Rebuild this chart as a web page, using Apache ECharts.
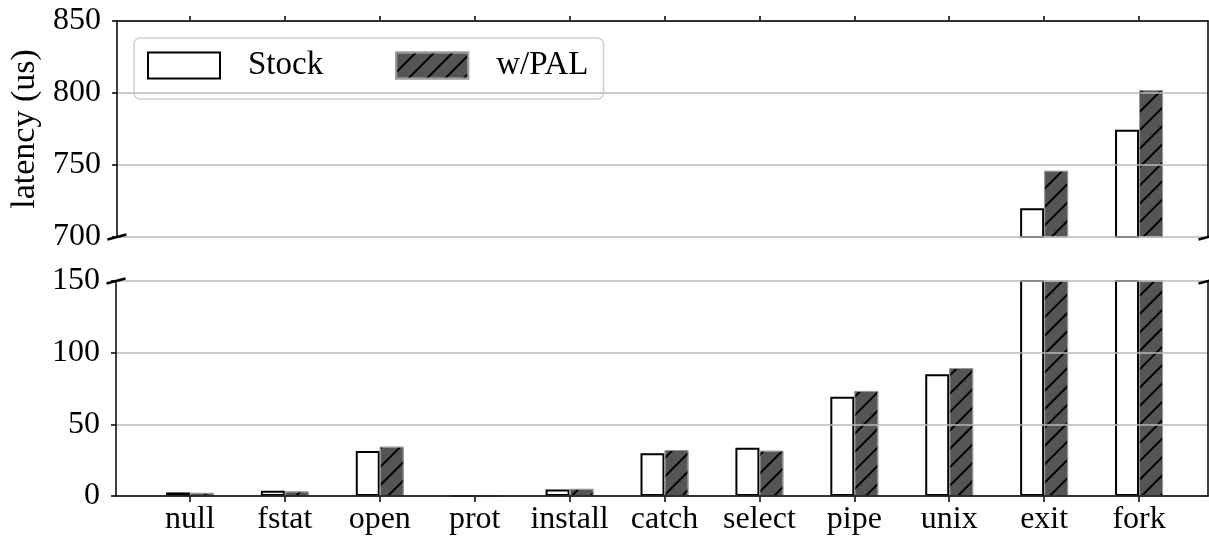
<!DOCTYPE html>
<html>
<head>
<meta charset="utf-8">
<script src="https://cdn.jsdelivr.net/npm/echarts@6/dist/echarts.min.js"></script>
<style>
  html, body { margin: 0; padding: 0; background: #fff; }
  #main { width: 1209px; height: 538px; }
</style>
</head>
<body>
<div id="main"></div>
<script>
const categories = ['null', 'fstat', 'open', 'prot', 'install', 'catch', 'select', 'pipe', 'unix', 'exit', 'fork'];
const stockValues = [2.5, 3.6, 31.4, 0, 4.6, 29.8, 33.7, 69.3, 84.9, 720, 774.5];
const palValues = [2.2, 3.2, 34.4, 0, 5.0, 32.1, 31.6, 73.3, 89.3, 746, 802];
const topTicks = [700, 850, 50];    // min, max, step of the upper panel
const bottomTicks = [0, 150, 50];   // min, max, step of the lower panel

const FONT = 'Liberation Serif';
const chart = echarts.init(document.getElementById('main'));

const hatch = {
    symbol: 'rect',
    symbolSize: 1,
    color: '#000',
    dashArrayX: [1, 0],
    dashArrayY: [1.8, 10.2],
    rotation: -Math.PI / 4
};
const stockStyle = { color: '#fff', borderColor: '#000', borderWidth: 2 };
const palStyle = { color: '#555', borderColor: '#999', borderWidth: 1, decal: hatch };

const onlyIn = (vals, lo) => vals.map(v => (v >= lo ? v : '-'));

const frameX = (grid, pos) => ({
    gridIndex: grid, type: 'value', min: 0, max: 1, position: pos, z: 6,
    axisLine: { show: true, onZero: false, lineStyle: { color: '#000', width: 1.5 } },
    axisTick: { show: false }, axisLabel: { show: false }, splitLine: { show: false }
});
const frameYLeft = (grid, t) => ({
    gridIndex: grid, type: 'value', min: t[0], max: t[1], interval: t[2], position: 'left', z: 5,
    axisLine: { show: true, onZero: false, lineStyle: { color: '#000', width: 1.5 } },
    axisTick: { show: true, length: 5, lineStyle: { color: '#000', width: 1.5 } },
    axisLabel: { color: '#000', fontFamily: FONT, fontSize: 32, margin: 16 },
    splitLine: { show: true, lineStyle: { color: '#b8b8b8', width: 1.5 } }
});
const frameYRight = (grid) => ({
    gridIndex: grid, type: 'value', min: 0, max: 1, position: 'right', z: 5,
    axisLine: { show: true, onZero: false, lineStyle: { color: '#000', width: 1.5 } },
    axisTick: { show: false }, axisLabel: { show: false }, splitLine: { show: false }
});

const yTop = frameYLeft(0, topTicks);
yTop.name = 'latency (us)';
yTop.nameLocation = 'middle';
yTop.nameGap = 71;
yTop.nameTextStyle = { color: '#000', fontFamily: FONT, fontSize: 34 };

const option = {
    backgroundColor: '#fff',
    animation: false,
    grid: [
        { left: 116, right: 1, top: 21, height: 216 },
        { left: 116, right: 1, top: 281, height: 215 },
        { left: 142.5, right: 22.5, top: 21, height: 216 },
        { left: 142.5, right: 22.5, top: 281, height: 215 }
    ],
    legend: {
        left: 134, top: 38,
        data: ['Stock', 'w/PAL'],
        itemWidth: 72, itemHeight: 26, itemGap: 72,
        padding: [11, 15, 17, 13],
        backgroundColor: 'rgba(255,255,255,0.85)',
        borderColor: '#d0d0d0', borderWidth: 1.5, borderRadius: 6,
        textStyle: { color: '#000', fontFamily: FONT, fontSize: 33, padding: [0, 0, 0, 23] },
        icon: 'rect'
    },
    xAxis: [
        frameX(0, 'top'),
        frameX(1, 'bottom'),
        {
            gridIndex: 2, type: 'category', data: categories, position: 'top',
            axisLine: { show: false, onZero: false },
            axisTick: { show: true, alignWithLabel: true, length: 5, lineStyle: { color: '#000', width: 1.5 } },
            axisLabel: { show: false }
        },
        {
            gridIndex: 3, type: 'category', data: categories, position: 'bottom',
            axisLine: { show: false, onZero: false },
            axisTick: { show: true, alignWithLabel: true, length: 6, lineStyle: { color: '#000', width: 1.5 } },
            axisLabel: { color: '#000', fontFamily: FONT, fontSize: 32, margin: 8, interval: 0 }
        }
    ],
    yAxis: [
        yTop,
        frameYRight(0),
        frameYLeft(1, bottomTicks),
        frameYRight(1),
        { gridIndex: 2, type: 'value', min: topTicks[0], max: topTicks[1], show: false },
        { gridIndex: 3, type: 'value', min: bottomTicks[0], max: bottomTicks[1], show: false }
    ],
    series: [
        { name: 'Stock', type: 'bar', xAxisIndex: 2, yAxisIndex: 4, data: onlyIn(stockValues, topTicks[0]),
          barWidth: 24, barGap: '0%', itemStyle: stockStyle },
        { name: 'w/PAL', type: 'bar', xAxisIndex: 2, yAxisIndex: 4, data: onlyIn(palValues, topTicks[0]),
          barWidth: 24, barGap: '0%', itemStyle: palStyle },
        { name: 'Stock', type: 'bar', xAxisIndex: 3, yAxisIndex: 5, data: stockValues,
          barWidth: 24, barGap: '0%', itemStyle: stockStyle },
        { name: 'w/PAL', type: 'bar', xAxisIndex: 3, yAxisIndex: 5, data: palValues,
          barWidth: 24, barGap: '0%', itemStyle: palStyle }
    ]
};

chart.setOption(option);

// diagonal break marks at the four corners where the panels are cut
const corners = [
    chart.convertToPixel({ gridIndex: 0 }, [0, topTicks[0]]),
    chart.convertToPixel({ gridIndex: 0 }, [1, topTicks[0]]),
    chart.convertToPixel({ gridIndex: 1 }, [0, bottomTicks[1]]),
    chart.convertToPixel({ gridIndex: 1 }, [1, bottomTicks[1]])
];
chart.setOption({
    graphic: corners.map(p => ({
        type: 'line', z: 100,
        shape: { x1: p[0] - 9.5, y1: p[1] + 2.5, x2: p[0] + 9.5, y2: p[1] - 2.5 },
        style: { stroke: '#000', lineWidth: 2.5 }
    }))
});

window.addEventListener('resize', () => {
    chart.resize();
});
</script>
</body>
</html>
